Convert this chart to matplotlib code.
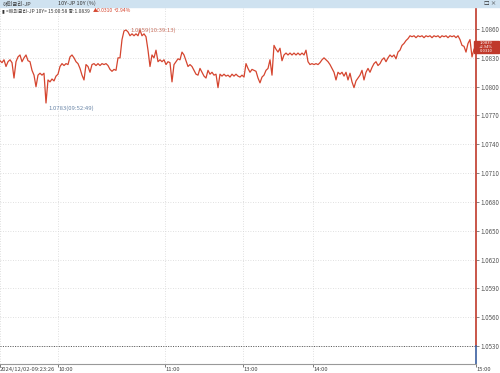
import matplotlib.pyplot as plt
import numpy as np
from matplotlib.patches import Rectangle

plt.rcParams['font.family'] = ['Noto Sans CJK KR', 'DejaVu Sans']

# price in units of 1e-4, one sample every 2 ticks
price_e4 = [
    10827, 10825, 10828, 10821, 10826, 10828, 10825, 10809, 10826, 10831, 10833, 10826, 10830, 10833, 10827, 10826, 10817, 10812, 10800, 10812,
    10814, 10812, 10814, 10783, 10807, 10805, 10808, 10806, 10811, 10813, 10821, 10824, 10822, 10824, 10823, 10831, 10833, 10830, 10826, 10824,
    10819, 10812, 10807, 10823, 10821, 10815, 10823, 10824, 10822, 10824, 10822, 10824, 10823, 10824, 10822, 10818, 10816, 10818, 10817, 10830,
    10830, 10849, 10858, 10859, 10857, 10853, 10855, 10853, 10855, 10853, 10859, 10853, 10855, 10852, 10838, 10821, 10833, 10830, 10838, 10826,
    10828, 10826, 10828, 10823, 10826, 10825, 10805, 10823, 10826, 10829, 10828, 10836, 10833, 10827, 10821, 10823, 10821, 10817, 10813, 10812,
    10819, 10815, 10811, 10809, 10817, 10813, 10815, 10812, 10813, 10799, 10813, 10811, 10813, 10811, 10812, 10810, 10813, 10811, 10813, 10811,
    10810, 10812, 10810, 10824, 10819, 10815, 10818, 10817, 10816, 10809, 10804, 10810, 10812, 10817, 10819, 10828, 10812, 10843, 10839, 10836,
    10840, 10827, 10833, 10835, 10833, 10835, 10833, 10835, 10833, 10835, 10833, 10835, 10833, 10838, 10826, 10823, 10824, 10823, 10824, 10823,
    10825, 10828, 10830, 10828, 10826, 10823, 10819, 10815, 10807, 10815, 10813, 10815, 10811, 10815, 10807, 10814, 10805, 10799, 10806, 10809,
    10812, 10817, 10807, 10815, 10819, 10815, 10820, 10824, 10826, 10822, 10824, 10828, 10830, 10826, 10830, 10833, 10831, 10833, 10829, 10836,
    10838, 10843, 10845, 10848, 10850, 10853, 10852, 10853, 10851, 10853, 10852, 10853, 10851, 10853, 10852, 10853, 10851, 10853, 10852, 10853,
    10851, 10853, 10852, 10853, 10851, 10853, 10852, 10853, 10851, 10853, 10849, 10843, 10842, 10836, 10845, 10849, 10831, 10839,
]
price = np.array(price_e4) / 10000
tick_no = np.arange(len(price)) * 2

yticks = [1.0530, 1.0560, 1.0590, 1.0620, 1.0650, 1.0680, 1.0710,
          1.0740, 1.0770, 1.0800, 1.0830, 1.0860]
xtick_pos = [0, 58, 165, 243, 313, 476]
xtick_lab = ['2024/12/02-09:23:26', '10:00', '11:00', '13:00', '14:00', '15:00']
min_time = '09:52:49'
max_time = '10:39:13'
last_time = '15:00:58'
change = 0.0310
change_pct = 2.94

red = '#d5452f'
W, H = 500, 373
fig = plt.figure(figsize=(5, 3.73), dpi=100)
ax = fig.add_axes([0, 1 - 364 / H, 476 / W, (364 - 8) / H])

ax.set_xlim(0, 476)
ax.set_ylim(1.05113, 1.08819)
for s in ['top', 'left', 'right']:
    ax.spines[s].set_visible(False)
ax.spines['bottom'].set_color('#999999')
ax.spines['bottom'].set_linewidth(0.8)

ax.set_yticks(yticks)
ax.set_yticklabels([f'{v:.4f}' for v in yticks])
ax.yaxis.tick_right()
ax.tick_params(axis='y', labelsize=4.5, colors='#555555', length=2, width=0.5, pad=1)
ax.set_xticks(xtick_pos)
ax.set_xticklabels(xtick_lab, ha='left')
ax.tick_params(axis='x', labelsize=4.2, colors='#444444', length=2, width=0.5, pad=0.5)

ax.grid(True, ls=(0, (1, 2)), color='#d6d6d6', lw=0.6)
ax.axhline(1.0530, ls=(0, (1, 1.5)), color='#555555', lw=0.7)

ax.plot(tick_no, price, color=red, lw=0.9)

# right edge marker line
ytop = ax.get_ylim()[1]
ybot = ax.get_ylim()[0]
ax.plot([476, 476], [1.0530, ytop], color='#c0392b', lw=1.2, clip_on=False)
ax.plot([476, 476], [ybot, 1.0530], color='#3a5fa0', lw=1.2, clip_on=False)

# min / max labels
i_min = int(np.argmin(price))
i_max = int(np.argmax(price))
ax.annotate(f'{price[i_min]:.4f}({min_time})', xy=(tick_no[i_min], price[i_min]),
            xytext=(2, -2), textcoords='offset points', fontsize=4.3,
            color='#6a86a8', va='top')
ax.annotate(f'{price[i_max]:.4f}({max_time})', xy=(tick_no[i_max], price[i_max]),
            xytext=(3, 0), textcoords='offset points', fontsize=4.3,
            color='#c8705f', va='center')

# header bar
fig.patches.append(Rectangle((0, 1 - 7 / H), 1, 7 / H, transform=fig.transFigure,
                             color='#cfe2f0', zorder=0))
fig.text(3 / W, 1 - 3.5 / H, '해외금리-JP', fontsize=4, va='center', color='#333333')
fig.text(58 / W, 1 - 3.5 / H, '10Y-JP 10Y (%)', fontsize=4, va='center', color='#333333')
fig.text(484 / W, 1 - 3.5 / H, '□ ×', fontsize=4, va='center', color='#333333')

last = price[-1]
fig.text(2 / W, 1 - 10.5 / H, f'▮ <해외금리-JP 10Y> {last_time} 종:{last:.4f}',
         fontsize=3.6, va='center', color='#333333')
fig.text(93 / W, 1 - 10.5 / H, f'▲{change:.4f}', fontsize=3.6, va='center', color=red)
fig.text(114 / W, 1 - 10.5 / H, f'+{change_pct:.2f}%', fontsize=3.6, va='center', color=red)

# last price box
fig.patches.append(Rectangle((474 / W, 1 - 53 / H), 25 / W, 12 / H,
                             transform=fig.transFigure, color='#c0392b', zorder=5))
for k, s in enumerate([f'{last:.4f}', f'+{change_pct:.2f}%', f'{change:.4f}']):
    fig.text(486 / W, 1 - (43.5 + 3.6 * k) / H, s, fontsize=3, color='white',
             ha='center', va='center', zorder=6)

fig.savefig('out.png', dpi=100)
